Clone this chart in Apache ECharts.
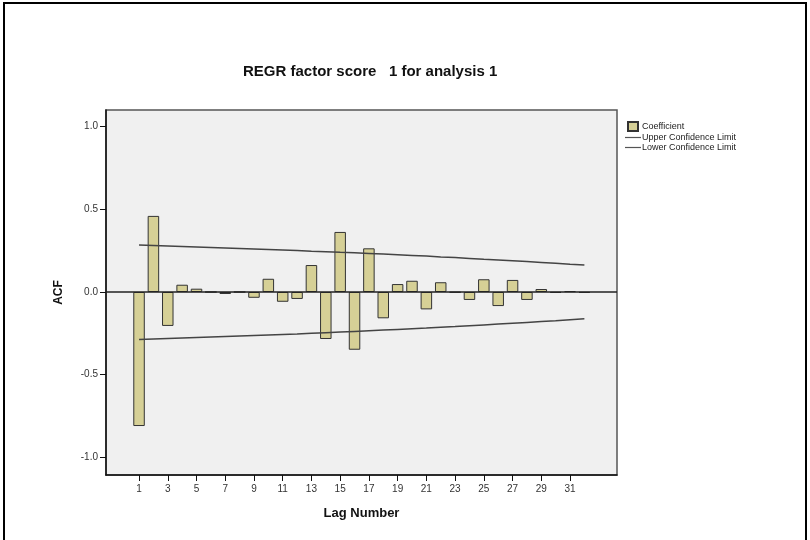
<!DOCTYPE html>
<html>
<head>
<meta charset="utf-8">
<script src="https://cdn.jsdelivr.net/npm/echarts@6/dist/echarts.min.js"></script>
<style>
html,body{margin:0;padding:0;background:#fff;}
#chart{width:810px;height:540px;}
</style>
</head>
<body>
<div id="chart"></div>
<script>
// ---- data ----
const lags = [1,2,3,4,5,6,7,8,9,10,11,12,13,14,15,16,17,18,19,20,21,22,23,24,25,26,27,28,29,30,31,32];
const acf = [-0.81,0.46,-0.205,0.044,0.02,0.0,-0.012,0.0,-0.035,0.08,-0.059,-0.042,0.163,-0.284,0.363,-0.349,0.264,-0.159,0.048,0.068,-0.105,0.059,-0.003,-0.048,0.077,-0.085,0.073,-0.048,0.018,-0.005,0.005,-0.005];
const upperLimit = [0.284,0.281,0.278,0.275,0.272,0.269,0.266,0.263,0.260,0.257,0.254,0.251,0.247,0.244,0.240,0.237,0.233,0.229,0.225,0.221,0.217,0.212,0.208,0.203,0.198,0.194,0.189,0.184,0.179,0.174,0.168,0.163];
const lowerLimit = [-0.287,-0.284,-0.281,-0.278,-0.275,-0.272,-0.269,-0.266,-0.263,-0.260,-0.257,-0.254,-0.250,-0.246,-0.242,-0.238,-0.234,-0.230,-0.226,-0.222,-0.218,-0.213,-0.209,-0.204,-0.199,-0.194,-0.189,-0.184,-0.179,-0.174,-0.168,-0.162];
const xTicks = [1,3,5,7,9,11,13,15,17,19,21,23,25,27,29,31];
const yTicks = [-1.0,-0.5,0.0,0.5,1.0];
const titleText = 'REGR factor score   1 for analysis 1';
const seriesNames = ['Coefficient','Upper Confidence Limit','Lower Confidence Limit'];

const chart = echarts.init(document.getElementById('chart'), null, {renderer:'canvas'});
const font = '"Liberation Sans", Arial, sans-serif';

chart.setOption({
  animation: false,
  backgroundColor: '#ffffff',
  textStyle: {fontFamily: font},
  title: {
    text: titleText,
    left: 238, top: 59,
    textStyle: {fontFamily: font, fontSize: 15, fontWeight: 'bold', color: '#111'}
  },
  graphic: [{
    type: 'rect', silent: true, z: 100,
    shape: {x: 4, y: 3, width: 802, height: 600},
    style: {fill: 'none', stroke: '#000', lineWidth: 2}
  }],
  legend: {
    orient: 'vertical',
    left: 620, top: 116,
    itemWidth: 16, itemHeight: 9, itemGap: 1,
    textStyle: {fontFamily: font, fontSize: 9, color: '#222', padding: [0,0,0,-4]},
    data: [
      {name: seriesNames[0], icon: 'path://M0,0h10v9h-10z'},
      {name: seriesNames[1], icon: 'path://M0,0h16v1.2h-16z'},
      {name: seriesNames[2], icon: 'path://M0,0h16v1.2h-16z'}
    ]
  },
  grid: {
    left: 106, right: 193, top: 110, bottom: 65,
    show: true, backgroundColor: '#f0f0f0', borderColor: '#555', borderWidth: 1.5
  },
  xAxis: {
    type: 'value',
    min: -1.3, max: 34.27,
    name: 'Lag Number', nameLocation: 'middle', nameGap: 32,
    nameTextStyle: {fontFamily: font, fontSize: 13, fontWeight: 'bold', color: '#111'},
    axisLine: {show: true, onZero: false, lineStyle: {color: '#111', width: 1.5}},
    axisTick: {show: true, length: 6, customValues: xTicks, lineStyle: {color: '#111'}},
    axisLabel: {customValues: xTicks, margin: 9, fontSize: 10, color: '#333', fontFamily: font},
    splitLine: {show: false}
  },
  yAxis: {
    type: 'value',
    min: -1.106, max: 1.1,
    name: 'ACF', nameLocation: 'middle', nameGap: 41,
    nameTextStyle: {fontFamily: font, fontSize: 12, fontWeight: 'bold', color: '#111'},
    axisLine: {show: true, onZero: false, lineStyle: {color: '#111', width: 1.5}},
    axisTick: {show: true, length: 6, customValues: yTicks, lineStyle: {color: '#111'}},
    axisLabel: {customValues: yTicks, margin: 8, fontSize: 10, color: '#333', fontFamily: font,
      formatter: v => v.toFixed(1)},
    splitLine: {show: false}
  },
  series: [
    {
      name: seriesNames[0], type: 'bar',
      data: lags.map((l, i) => [l, acf[i]]),
      barWidth: 11.5,
      itemStyle: {color: '#d6d096', borderColor: '#333', borderWidth: 1},
      markLine: {
        silent: true, symbol: 'none', label: {show: false},
        lineStyle: {color: '#222', width: 1.5, type: 'solid'},
        data: [{yAxis: 0}]
      },
      z: 2
    },
    {
      name: seriesNames[1], type: 'line',
      data: lags.map((l, i) => [l, upperLimit[i]]),
      symbol: 'none', lineStyle: {color: '#444', width: 1.5}, itemStyle: {color: '#555'}, z: 3
    },
    {
      name: seriesNames[2], type: 'line',
      data: lags.map((l, i) => [l, lowerLimit[i]]),
      symbol: 'none', lineStyle: {color: '#444', width: 1.5}, itemStyle: {color: '#555'}, z: 3
    }
  ]
});
</script>
</body>
</html>
